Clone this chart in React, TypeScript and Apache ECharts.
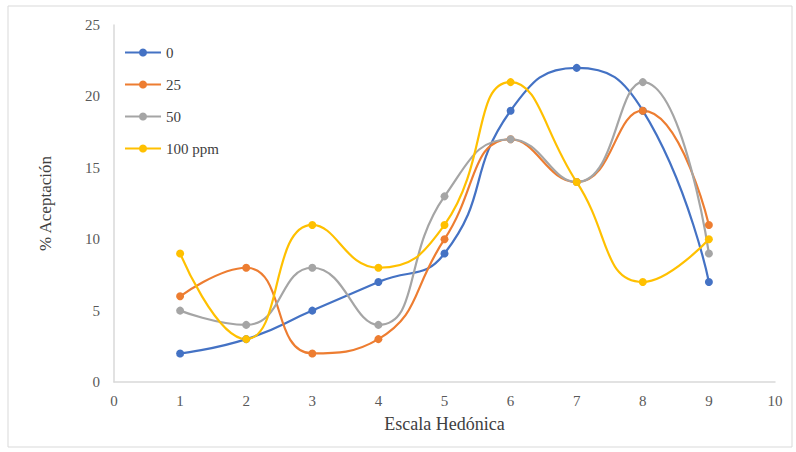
import React, { useEffect, useRef } from "react";
import * as echarts from "echarts";

const xValues = [1, 2, 3, 4, 5, 6, 7, 8, 9];
const seriesNames = ["0", "25", "50", "100 ppm"];
const s0 = [2, 3, 5, 7, 9, 19, 22, 19, 7];
const s25 = [6, 8, 2, 3, 10, 17, 14, 19, 11];
const s50 = [5, 4, 8, 4, 13, 17, 14, 21, 9];
const s100 = [9, 3, 11, 8, 11, 21, 14, 7, 10];
const colors = ["#4472C4", "#ED7D31", "#A5A5A5", "#FFC000"];

export default function App() {
  const ref = useRef<HTMLDivElement>(null);
  useEffect(() => {
    const chart = echarts.init(ref.current!, null, { renderer: "svg" });
    const all = [s0, s25, s50, s100];
    const font = "Liberation Serif";
    chart.setOption({
      animation: false,
      textStyle: { fontFamily: font },
      graphic: [
        {
          type: "rect",
          shape: { x: 8, y: 6, width: 784, height: 441 },
          style: { fill: "none", stroke: "#d9d9d9", lineWidth: 1 },
          silent: true,
        },
      ],
      grid: { left: 114, right: 21, top: 25, bottom: 70 },
      legend: {
        orient: "vertical",
        left: 119,
        top: 40,
        itemGap: 17,
        itemWidth: 36,
        itemHeight: 10,
        textStyle: { fontFamily: font, fontSize: 15, color: "#404040" },
        data: seriesNames,
      },
      xAxis: {
        type: "value",
        min: 0,
        max: 10,
        interval: 1,
        name: "Escala Hedónica",
        nameLocation: "middle",
        nameGap: 33,
        nameTextStyle: { fontFamily: font, fontSize: 18, color: "#404040" },
        axisLine: { show: true, lineStyle: { color: "#d9d9d9", width: 1.5 } },
        axisTick: { show: false },
        splitLine: { show: false },
        axisLabel: { fontFamily: font, fontSize: 15, color: "#595959", margin: 11 },
      },
      yAxis: {
        type: "value",
        min: 0,
        max: 25,
        interval: 5,
        name: "% Aceptación",
        nameLocation: "middle",
        nameGap: 60,
        nameTextStyle: { fontFamily: font, fontSize: 17, color: "#404040" },
        axisLine: { show: true, lineStyle: { color: "#d9d9d9", width: 1.5 } },
        axisTick: { show: false },
        splitLine: { show: false },
        axisLabel: { fontFamily: font, fontSize: 15, color: "#595959", margin: 14 },
      },
      series: seriesNames.map((name, i) => ({
        name,
        type: "line",
        smooth: 0.5,
        symbol: "circle",
        symbolSize: 8,
        data: xValues.map((x, j) => [x, all[i][j]]),
        itemStyle: { color: colors[i] },
        lineStyle: { color: colors[i], width: 2.2 },
      })),
    });
    return () => chart.dispose();
  }, []);
  return (
    <div
      ref={ref}
      style={{ position: "fixed", left: 0, top: 0, width: 796, height: 452, background: "#fff" }}
    />
  );
}
